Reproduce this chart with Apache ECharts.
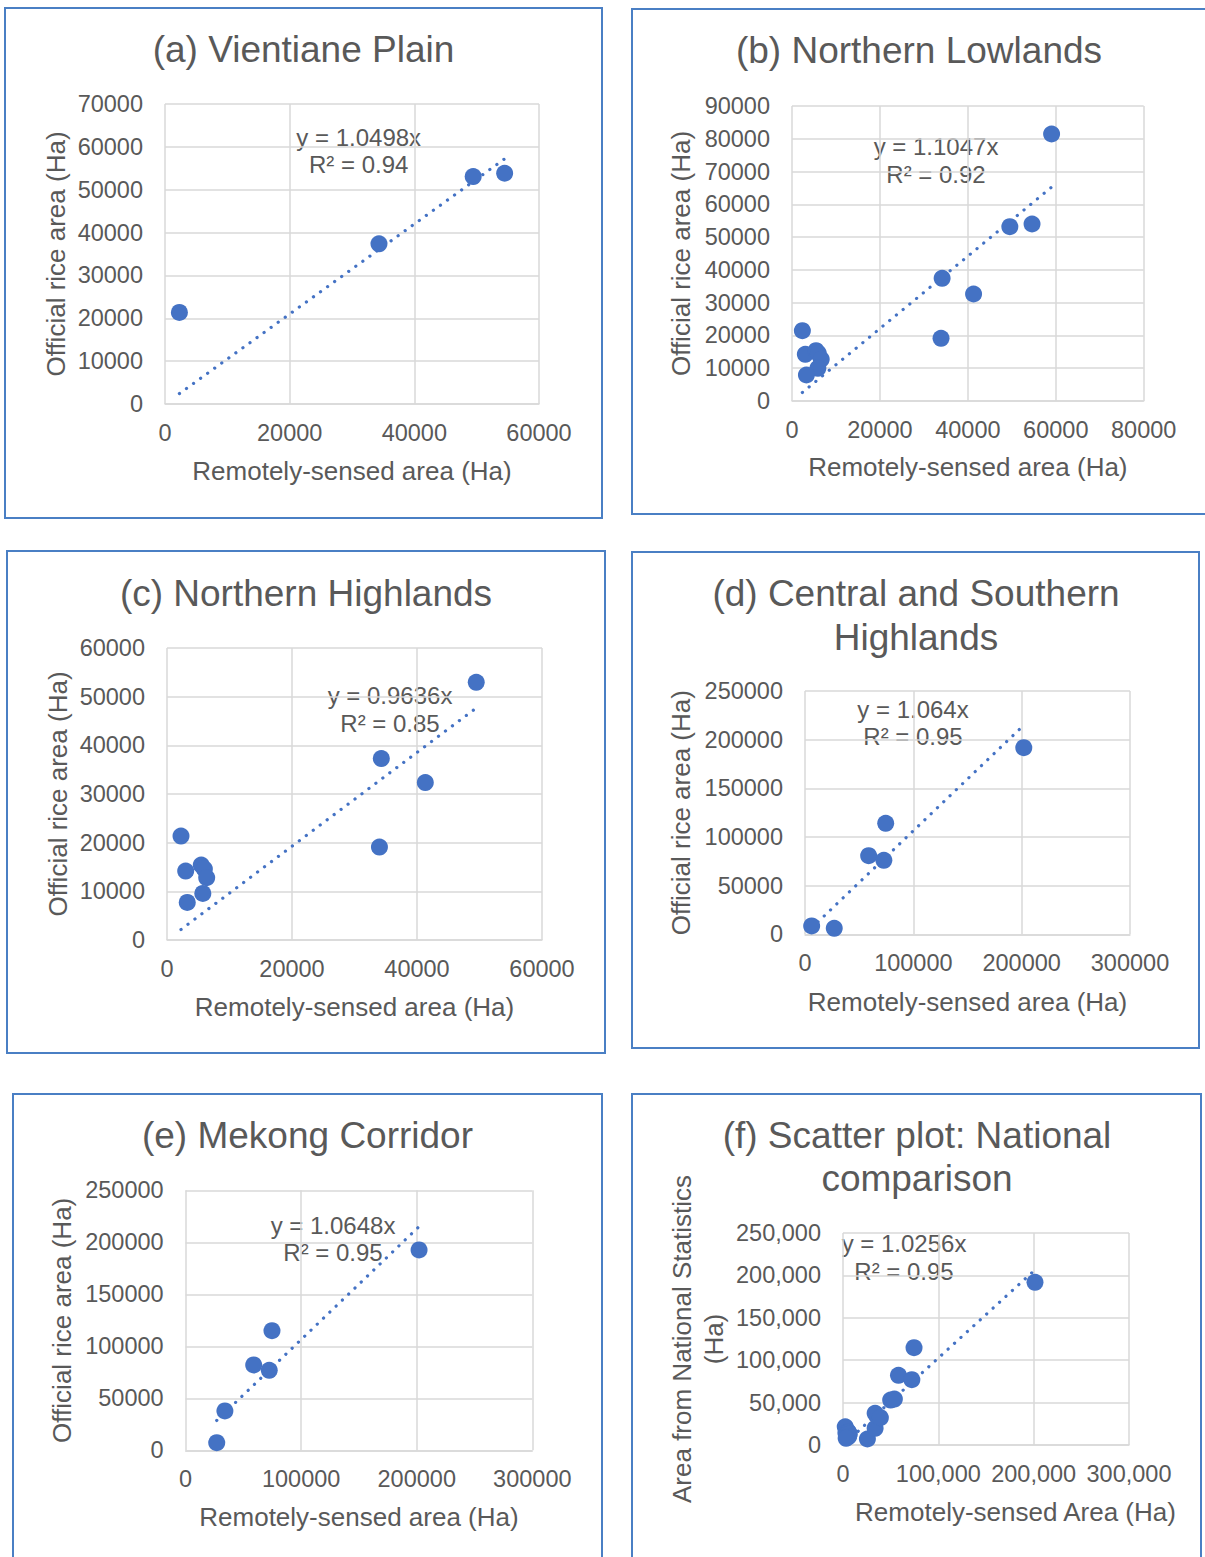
<!DOCTYPE html>
<html>
<head>
<meta charset="utf-8">
<script src="https://cdn.jsdelivr.net/npm/echarts@6/dist/echarts.min.js"></script>
<style>
html, body { margin: 0; padding: 0; background: #fff; }
#main { width: 1205px; height: 1557px; }
</style>
</head>
<body>
<div id="main"></div>
<script>
// panel texts
var titles = ['(a) Vientiane Plain', '(b) Northern Lowlands', '(c) Northern Highlands',
    '(d) Central and Southern\nHighlands', '(e) Mekong Corridor', '(f) Scatter plot: National\ncomparison'];
var xNames = ['Remotely-sensed area (Ha)', 'Remotely-sensed area (Ha)', 'Remotely-sensed area (Ha)',
    'Remotely-sensed area (Ha)', 'Remotely-sensed area (Ha)', 'Remotely-sensed Area (Ha)'];
var yNames = ['Official rice area (Ha)', 'Official rice area (Ha)', 'Official rice area (Ha)',
    'Official rice area (Ha)', 'Official rice area (Ha)', 'Area from National Statistics\n(Ha)'];

// trendline y = a*x and R2
var slopes = [1.0498, 1.1047, 0.9636, 1.064, 1.0648, 1.0256];
var slopeText = ['1.0498', '1.1047', '0.9636', '1.064', '1.0648', '1.0256'];
var r2Text = ['0.94', '0.92', '0.85', '0.95', '0.95', '0.95'];

// axis ranges
var xMax = [60000, 80000, 60000, 300000, 300000, 300000];
var xStep = [20000, 20000, 20000, 100000, 100000, 100000];
var yMax = [70000, 90000, 60000, 250000, 250000, 250000];
var yStep = [10000, 10000, 10000, 50000, 50000, 50000];

// [remotely-sensed, official]
var ptsA = [[2310, 21370], [34330, 37370], [49440, 53060], [54490, 53840]];
var ptsB = [[2360, 21460], [3030, 14240], [5470, 15360], [6000, 14500], [6650, 12710], [5890, 9970],
    [3280, 7930], [33900, 19120], [34150, 37420], [41300, 32640], [49550, 53190], [54600, 54000], [59050, 81460]];
var ptsC = [[2240, 21350], [2990, 14160], [5480, 15390], [5980, 14570], [6350, 12790], [5730, 9580],
    [3240, 7730], [33990, 19090], [34290, 37290], [41330, 32360], [49480, 52950]];
var ptsD = [[6150, 8560], [27000, 6160], [58770, 80820], [72780, 76030], [74490, 114040], [201940, 191780]];
var ptsE = [[26940, 7370], [34010, 37820], [58920, 82050], [72390, 76920], [74750, 115060], [202020, 192630]];
var ptsF = [[2360, 21460], [3030, 14240], [5470, 15360], [6000, 14500], [6650, 12710], [5890, 9970],
    [3280, 7930], [25600, 7080], [33700, 19700], [33700, 37400], [39200, 32200], [50000, 53000],
    [53900, 54200], [58200, 82200], [72200, 77000], [74500, 114700], [201400, 191900]];
var allPts = [ptsA, ptsB, ptsC, ptsD, ptsE, ptsF];

// layout (page pixels)
var boxes = [[5, 8, 597, 510], [632, 9, 575, 505], [7, 551, 598, 502],
    [632, 552, 567, 496], [13, 1094, 589, 480], [632, 1094, 569, 480]];
var grids = [[165, 104, 374, 300], [792, 106, 351.7, 295], [167, 648, 375, 292],
    [805, 691, 325, 243.3], [185.6, 1190.3, 346.7, 260], [843, 1233, 286, 212]];
var titlePos = [[303.5, 49.2], [919, 50], [306, 593.3], [916, 615.7], [307.5, 1135.5], [917, 1157]];
var eqPos = [[358.7, 150.5, 27], [936, 160, 28], [390, 709.3, 27.5], [913, 723, 27.7], [333, 1238.8, 26.5], [904, 1257, 28]];
var xGap = [54, 53, 53.5, 54.7, 53.2, 53.5];
var yGap = [96.4, 98, 96, 111, 110.6, 113];

var blue = '#4472C4';
var txt = '#595959';
var grey = '#d9d9d9';
var font = '"Liberation Sans", Arial, sans-serif';

function plain(v) {
    return String(v);
}
function comma(v) {
    return String(v).replace(/\B(?=(\d{3})+(?!\d))/g, ',');
}

var cfg = { animation: false, grid: [], xAxis: [], yAxis: [], series: [], graphic: [] };

for (var i = 0; i < 6; i++) {
    var g = grids[i];
    cfg.grid.push({ left: g[0], top: g[1], width: g[2], height: g[3] });

    cfg.xAxis.push({
        type: 'value', gridIndex: i, min: 0, max: xMax[i], interval: xStep[i],
        name: xNames[i], nameLocation: 'middle', nameGap: xGap[i],
        nameTextStyle: { color: txt, fontSize: 26, lineHeight: 26, fontFamily: font,
            padding: i == 5 ? [0, 0, 0, 59] : 0 },
        axisLine: { show: true, lineStyle: { color: grey, width: 1.5 } },
        axisTick: { show: false },
        axisLabel: { color: txt, fontSize: 23.5, fontFamily: font, margin: 17,
            formatter: i == 5 ? comma : plain },
        splitLine: { show: true, lineStyle: { color: grey, width: 1.5 } }
    });
    cfg.yAxis.push({
        type: 'value', gridIndex: i, min: 0, max: yMax[i], interval: yStep[i],
        name: yNames[i], nameLocation: 'middle', nameGap: yGap[i],
        nameTextStyle: { color: txt, fontSize: 26, lineHeight: i == 5 ? 32 : 26, fontFamily: font },
        axisLine: { show: false },
        axisTick: { show: false },
        axisLabel: { color: txt, fontSize: 23.5, fontFamily: font, margin: 22,
            formatter: i == 5 ? comma : plain },
        splitLine: { show: true, lineStyle: { color: grey, width: 1.5 } }
    });

    // trendline across the data range
    var lo = Infinity, hi = -Infinity;
    allPts[i].forEach(function (p) { lo = Math.min(lo, p[0]); hi = Math.max(hi, p[0]); });
    cfg.series.push({
        type: 'line', xAxisIndex: i, yAxisIndex: i, silent: true, showSymbol: false, z: 1,
        data: [[lo, slopes[i] * lo], [hi, slopes[i] * hi]],
        lineStyle: { color: blue, width: 3.2, type: [0.1, 8.6], cap: 'round' }
    });
    cfg.series.push({
        type: 'scatter', xAxisIndex: i, yAxisIndex: i, z: 2,
        symbolSize: 17, itemStyle: { color: blue, opacity: 1 },
        data: allPts[i]
    });

    var b = boxes[i];
    cfg.graphic.push({
        type: 'rect', silent: true, z: 0,
        shape: { x: b[0], y: b[1], width: b[2], height: b[3] },
        style: { fill: 'none', stroke: '#4a7fc4', lineWidth: 2 }
    });
    cfg.graphic.push({
        type: 'text', silent: true, x: titlePos[i][0], y: titlePos[i][1],
        style: { text: titles[i], align: 'center', verticalAlign: 'middle', fill: txt,
            fontSize: 37, lineHeight: 43.5, fontFamily: font }
    });
    cfg.graphic.push({
        type: 'text', silent: true, x: eqPos[i][0], y: eqPos[i][1],
        style: { text: 'y = ' + slopeText[i] + 'x\nR² = ' + r2Text[i], align: 'center',
            verticalAlign: 'middle', fill: txt, fontSize: 24, lineHeight: eqPos[i][2], fontFamily: font }
    });
}

var chart = echarts.init(document.getElementById('main'), null, { renderer: 'svg' });
chart.setOption(cfg);
</script>
</body>
</html>
